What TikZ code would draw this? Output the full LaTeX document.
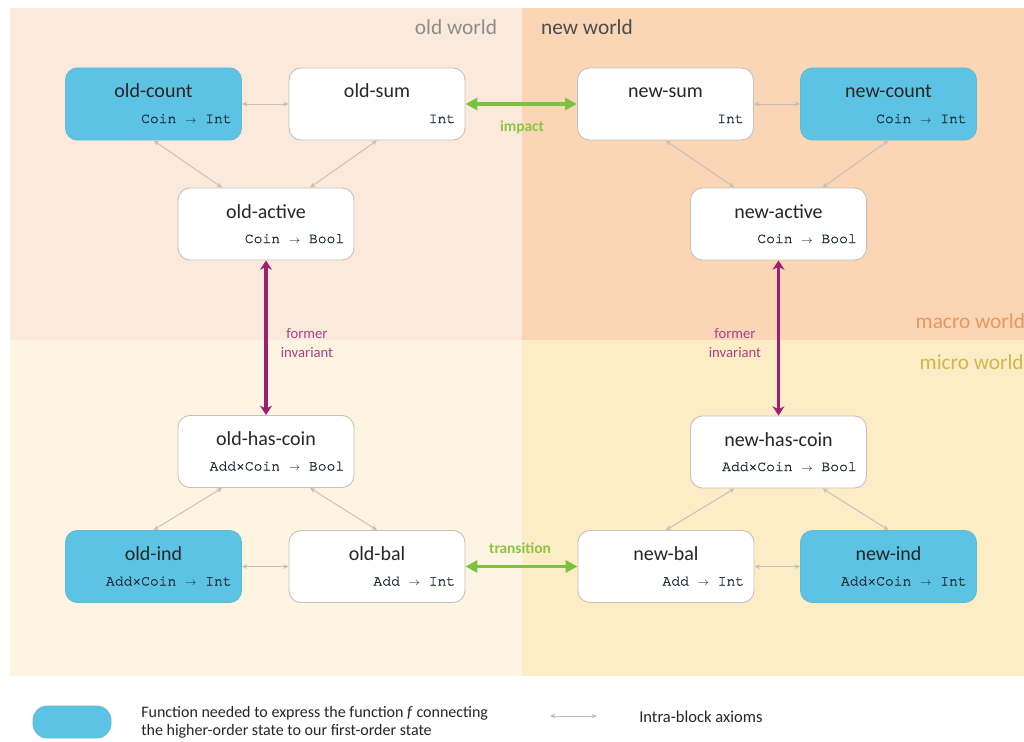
\documentclass[tikz,border=0pt]{standalone}
\usepackage{fontspec}
\setmainfont{Carlito}
\setmonofont{texgyrecursor-regular.otf}[FakeBold=1.2]
\usetikzlibrary{arrows.meta, positioning, calc}
\definecolor{oldMacro}{HTML}{FBEADC}
\definecolor{newMacro}{HTML}{FAD5B6}
\definecolor{oldMicro}{HTML}{FDF5E1}
\definecolor{newMicro}{HTML}{FCEDC6}
\definecolor{funBlue}{HTML}{5DC3E4}
\definecolor{boxGrey}{HTML}{C9C1B9}
\definecolor{axiomGrey}{HTML}{C6BEB6}
\definecolor{linkGreen}{HTML}{7BC242}
\definecolor{labelGreen}{HTML}{8CC63F}
\definecolor{invPurple}{HTML}{9C1F72}
\definecolor{worldOrange}{HTML}{E8995A}
\definecolor{worldGold}{HTML}{D2B64A}
\definecolor{typeInk}{HTML}{1E2A36}
\tikzset{
    funbox/.style={draw=boxGrey, fill=white, rounded corners=9pt, line width=0.7pt,
        minimum width=132pt, minimum height=54pt, inner sep=0pt},
    keybox/.style={funbox, fill=funBlue, draw=funBlue!85!gray},
    boxtitle/.style={inner sep=0pt, anchor=base, font=\fontsize{15}{18}\selectfont, text=black!85},
    boxtype/.style={inner sep=0pt, anchor=base east, font=\ttfamily\fontsize{11}{12}\selectfont, text=typeInk},
    axiom/.style={draw=axiomGrey, line width=0.7pt,
        {Stealth[length=4pt,width=3.5pt]}-{Stealth[length=4pt,width=3.5pt]}},
    link/.style={draw=linkGreen, line width=2.3pt,
        {Triangle[length=9pt,width=9pt]}-{Triangle[length=9pt,width=9pt]}},
    invariant/.style={draw=invPurple, line width=2.3pt,
        {Stealth[length=7pt,width=9pt]}-{Stealth[length=7pt,width=9pt]}},
    linklabel/.style={font=\bfseries\fontsize{11.5}{13}\selectfont, text=labelGreen},
    invlabel/.style={align=center, font=\fontsize{11}{14}\selectfont, text=invPurple!85},
    worldlabel/.style={font=\fontsize{16}{19}\selectfont}
}
\newcommand{\fto}{ $\scriptstyle\rightarrow$ }
% name, style, position, title, type
\newcommand{\FunBox}[5]{
    \node[#2] (#1) at (#3) {};
    \node[boxtitle] (#1-title) at ($(#1.center)+(0,-6)$) {#4};
    \node[boxtype] (#1-type) at ($(#1.east)+(-10,19)$) {#5};
}

\begin{document}
\begin{tikzpicture}[x=0.75pt, y=-0.75pt]
    \useasboundingbox[fill=white] (0,0) rectangle (1024,742);

    % Worlds
    \fill[oldMacro] (10,8) rectangle (522,340);
    \fill[newMacro] (522,8) rectangle (1024,340);
    \fill[oldMicro] (10,340) rectangle (522,676);
    \fill[newMicro] (522,340) rectangle (1024,676);
    \node[worldlabel, text=black!45] (oldworld) at (456,27) {old world};
    \node[worldlabel, text=black!70] (newworld) at (587,27) {new world};
    \node[worldlabel, anchor=west, text=worldOrange] (macroworld) at (911,321) {macro world};
    \node[worldlabel, anchor=west, text=worldGold] (microworld) at (915,362) {micro world};

    % Row 1
    \FunBox{oldcount}{keybox}{153.5,104}{old-count}{Coin\fto Int}
    \FunBox{oldsum}{funbox}{377,104}{old-sum}{Int}
    \FunBox{newsum}{funbox}{665.5,104}{new-sum}{Int}
    \FunBox{newcount}{keybox}{888.5,104}{new-count}{Coin\fto Int}
    % Row 2
    \FunBox{oldactive}{funbox}{266,224}{old-active}{Coin\fto Bool}
    \FunBox{newactive}{funbox}{778.5,224}{new-active}{Coin\fto Bool}
    % Row 3
    \FunBox{oldhascoin}{funbox}{266,451.5}{old-has-coin}{Add×Coin\fto Bool}
    \FunBox{newhascoin}{funbox}{778.5,452}{new-has-coin}{Add×Coin\fto Bool}
    % Row 4
    \FunBox{oldind}{keybox}{153.5,566.5}{old-ind}{Add×Coin\fto Int}
    \FunBox{oldbal}{funbox}{377,566.5}{old-bal}{Add\fto Int}
    \FunBox{newbal}{funbox}{666,566.5}{new-bal}{Add\fto Int}
    \FunBox{newind}{keybox}{888.5,566.5}{new-ind}{Add×Coin\fto Int}

    % Intra-block axioms
    \draw[axiom] (oldcount) -- (oldsum);
    \draw[axiom] (newsum) -- (newcount);
    \draw[axiom] (oldcount.south) -- ([xshift=-33pt]oldactive.north);
    \draw[axiom] (oldsum.south) -- ([xshift=33pt]oldactive.north);
    \draw[axiom] (newsum.south) -- ([xshift=-33pt]newactive.north);
    \draw[axiom] (newcount.south) -- ([xshift=33pt]newactive.north);
    \draw[axiom] (oldind) -- (oldbal);
    \draw[axiom] (newbal) -- (newind);
    \draw[axiom] (oldind.north) -- ([xshift=-33pt]oldhascoin.south);
    \draw[axiom] (oldbal.north) -- ([xshift=33pt]oldhascoin.south);
    \draw[axiom] (newbal.north) -- ([xshift=-33pt]newhascoin.south);
    \draw[axiom] (newind.north) -- ([xshift=33pt]newhascoin.south);

    % Between worlds
    \draw[link] (oldsum) -- (newsum);
    \node[linklabel] (impact) at (522,127) {impact};
    \draw[link] (oldbal) -- (newbal);
    \node[linklabel] (transition) at (520,548) {transition};

    % Macro to micro
    \draw[invariant] (oldactive) -- (oldhascoin);
    \node[invlabel] (oldinv) at (307,343) {former\\invariant};
    \draw[invariant] (newactive) -- (newhascoin);
    \node[invlabel] (newinv) at (735,343) {former\\invariant};

    % Legend
    \node[keybox, minimum width=58.5pt, minimum height=24pt, rounded corners=11pt] (legkey) at (72,722) {};
    \node[anchor=west, align=left, inner sep=0pt, font=\fontsize{12}{13.5}\selectfont, text=black!85] (legtext) at (141,722)
        {Function needed to express the function \textit{f} connecting\\the higher-order state to our first-order state};
    \coordinate (legfrom) at (550,716);
    \coordinate (legto) at (597,716);
    \draw[axiom] (legfrom) -- (legto);
    \node[anchor=west, inner sep=0pt, font=\fontsize{12.4}{14}\selectfont, text=black!85] (legaxiom) at (639,717) {Intra-block axioms};
\end{tikzpicture}
\end{document}
